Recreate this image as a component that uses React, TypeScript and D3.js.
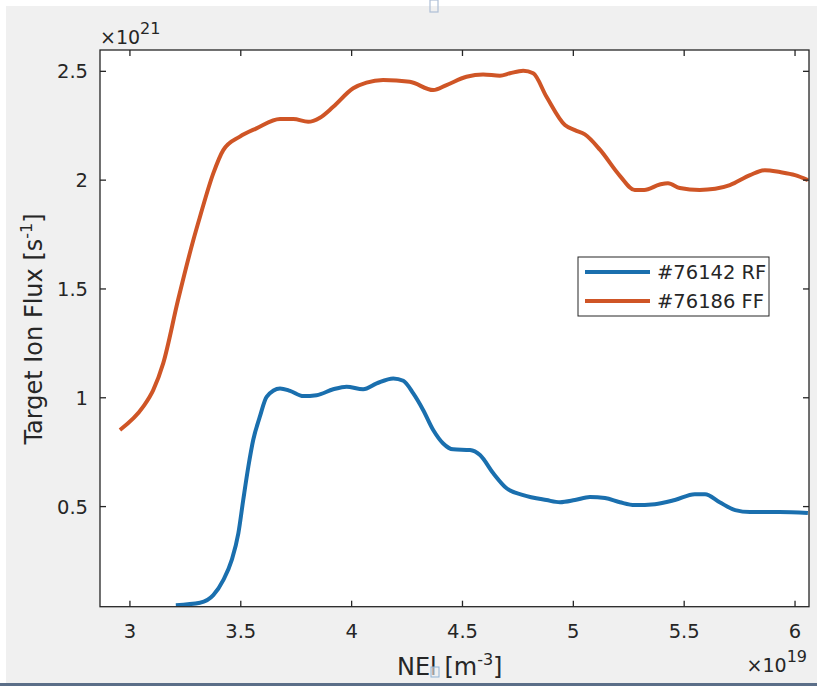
import React from "react";
import * as d3 from "d3";

const rfX = [3.207, 3.316, 3.376, 3.421, 3.459, 3.489, 3.511, 3.534, 3.556, 3.586, 3.617, 3.677, 3.722, 3.782, 3.842, 3.917, 3.977, 4.052, 4.113, 4.188, 4.233, 4.278, 4.323, 4.368, 4.413, 4.458, 4.534, 4.579, 4.639, 4.699, 4.774, 4.879, 4.94, 5.007, 5.075, 5.143, 5.21, 5.277, 5.368, 5.458, 5.548, 5.594, 5.66, 5.73, 5.797, 5.93, 6.058];
const rfY = [0.047, 0.058, 0.093, 0.162, 0.254, 0.377, 0.53, 0.683, 0.806, 0.913, 1.005, 1.043, 1.032, 1.008, 1.012, 1.039, 1.051, 1.039, 1.066, 1.089, 1.078, 1.02, 0.943, 0.852, 0.79, 0.763, 0.76, 0.737, 0.653, 0.584, 0.553, 0.53, 0.52, 0.53, 0.544, 0.539, 0.52, 0.507, 0.511, 0.53, 0.557, 0.557, 0.52, 0.484, 0.475, 0.475, 0.47];

const ffX = [2.955, 3.06, 3.105, 3.15, 3.217, 3.286, 3.316, 3.376, 3.421, 3.496, 3.571, 3.677, 3.737, 3.804, 3.857, 3.917, 4.007, 4.067, 4.142, 4.262, 4.368, 4.428, 4.518, 4.593, 4.669, 4.714, 4.774, 4.819, 4.879, 4.962, 5.007, 5.052, 5.12, 5.21, 5.277, 5.32, 5.39, 5.427, 5.48, 5.57, 5.64, 5.706, 5.797, 5.864, 5.932, 6.0, 6.058];
const ffY = [0.852, 0.959, 1.035, 1.158, 1.449, 1.725, 1.832, 2.031, 2.138, 2.2, 2.238, 2.281, 2.281, 2.268, 2.287, 2.337, 2.422, 2.448, 2.46, 2.452, 2.414, 2.437, 2.475, 2.486, 2.48, 2.491, 2.503, 2.491, 2.383, 2.253, 2.23, 2.21, 2.14, 2.02, 1.955, 1.955, 1.98, 1.986, 1.964, 1.955, 1.96, 1.977, 2.023, 2.046, 2.037, 2.023, 2.0];

const xTicks = [3, 3.5, 4, 4.5, 5, 5.5, 6];
const yTicks = [0.5, 1, 1.5, 2, 2.5];
const seriesNames = ["#76142 RF", "#76186 FF"];
const seriesColors = ["#1a6fae", "#cf5526"];

const W = 817, H = 686;
const L = 100, R = 809, T = 50, B = 606.7;

export default function App() {
  const x = d3.scaleLinear().domain([2.865, 6.063]).range([L, R]);
  const y = d3.scaleLinear().domain([0.04, 2.598]).range([B, T]);
  const line = d3.line<[number, number]>().x(d => x(d[0])).y(d => y(d[1])).curve(d3.curveMonotoneX);
  const rf = rfX.map((v, i) => [v, rfY[i]] as [number, number]);
  const ff = ffX.map((v, i) => [v, ffY[i]] as [number, number]);
  const ink = "#262626";
  const font = "DejaVu Sans";
  const tl = 6;
  return (
    <svg width={W} height={H} style={{ position: "absolute", left: 0, top: 0 }} fontFamily={font}>
      <rect x={0} y={0} width={W} height={H} fill="#ffffff" />
      <rect x={6} y={6} width={W - 6} height={H - 6} fill="#f0f0f0" />
      <rect x={430} y={0} width={8} height={12} fill="none" stroke="#aebfd6" strokeWidth={1.2} />
      <rect x={0} y={683} width={W} height={3} fill="#5b6e88" />
      <rect x={L} y={T} width={R - L} height={B - T} fill="#ffffff" />
      <defs>
        <clipPath id="plotclip">
          <rect x={L} y={T} width={R - L} height={B - T} />
        </clipPath>
      </defs>
      <g clipPath="url(#plotclip)">
        <path d={line(rf) || ""} fill="none" stroke={seriesColors[0]} strokeWidth={4} strokeLinejoin="round" />
        <path d={line(ff) || ""} fill="none" stroke={seriesColors[1]} strokeWidth={4} strokeLinejoin="round" />
      </g>
      <rect x={L} y={T} width={R - L} height={B - T} fill="none" stroke={ink} strokeWidth={1.3} />
      {xTicks.map(t => (
        <g key={"x" + t}>
          <line x1={x(t)} x2={x(t)} y1={B} y2={B - tl} stroke={ink} strokeWidth={1.3} />
          <line x1={x(t)} x2={x(t)} y1={T} y2={T + tl} stroke={ink} strokeWidth={1.3} />
          <text x={x(t)} y={638} textAnchor="middle" fontSize={19.5} fill={ink}>{String(t)}</text>
        </g>
      ))}
      {yTicks.map(t => (
        <g key={"y" + t}>
          <line x1={L} x2={L + tl} y1={y(t)} y2={y(t)} stroke={ink} strokeWidth={1.3} />
          <line x1={R} x2={R - tl} y1={y(t)} y2={y(t)} stroke={ink} strokeWidth={1.3} />
          <text x={88} y={y(t)} dy="0.36em" textAnchor="end" fontSize={19.5} fill={ink}>{String(t)}</text>
        </g>
      ))}
      <text x={100} y={44} fontSize={19} fill={ink}>
        ×10<tspan dy={-10} fontSize={16}>21</tspan>
      </text>
      <text x={807} y={672} textAnchor="end" fontSize={19} fill={ink}>
        ×10<tspan dy={-10} fontSize={16}>19</tspan>
      </text>
      <text transform="translate(42,329) rotate(-90)" textAnchor="middle" fontSize={24} fill={ink}>
        Target Ion Flux [s<tspan dy={-10} fontSize={16}>-1</tspan><tspan dy={10}>]</tspan>
      </text>
      <text x={397} y={675} fontSize={24} fill={ink}>
        NEl  [m<tspan dy={-10} fontSize={16}>-3</tspan><tspan dy={10}>]</tspan>
      </text>
      <rect x={431} y={667} width={8} height={10} fill="#f0f0f0" fillOpacity={0.6} stroke="#8fb3d6" strokeWidth={1} />
      <g>
        <rect x={578} y={257} width={191} height={59} fill="#ffffff" stroke={ink} strokeWidth={1} />
        {seriesNames.map((n, i) => (
          <g key={n}>
            <line x1={585} x2={650} y1={272 + i * 29} y2={272 + i * 29} stroke={seriesColors[i]} strokeWidth={4} />
            <text x={657} y={279 + i * 29} fontSize={19.5} fill={ink}>{n}</text>
          </g>
        ))}
      </g>
    </svg>
  );
}
